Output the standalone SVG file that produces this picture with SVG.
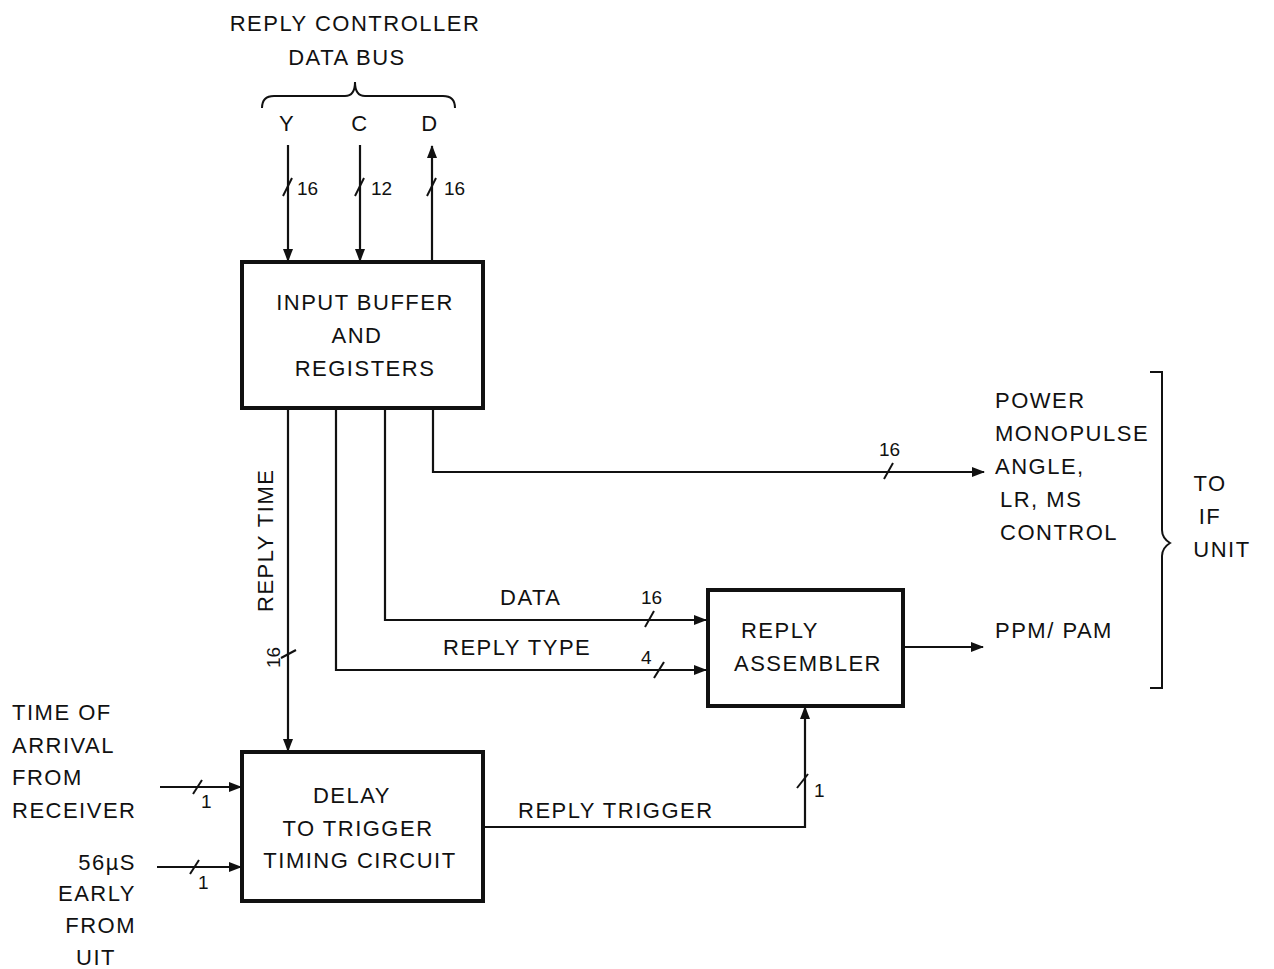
<svg xmlns="http://www.w3.org/2000/svg" width="1274" height="969" viewBox="0 0 1274 969">
<style>
text{font-family:"Liberation Sans",Arial,sans-serif;font-size:22px;fill:#111;letter-spacing:1.5px}
.box{fill:#fff;stroke:#111;stroke-width:4}
.ln{fill:none;stroke:#111;stroke-width:2.2}
.tk{fill:none;stroke:#111;stroke-width:2}
.m{text-anchor:middle}
.s{font-size:19px;letter-spacing:0}
</style>
<defs>
<marker id="ah" markerWidth="13" markerHeight="10" refX="12" refY="5" orient="auto" markerUnits="userSpaceOnUse"><path d="M0,0 L13,5 L0,10 Z" fill="#111"/></marker>
</defs>
<rect width="1274" height="969" fill="#fff"/>
<g id="bus-label">
<text x="355" y="31" class="m">REPLY CONTROLLER</text>
<text x="347" y="65" class="m">DATA BUS</text>
<path class="tk" d="M262,108 Q262,96 274,96 L345,96 Q355,96 355,82 Q355,96 365,96 L443,96 Q455,96 455,108"/>
<text x="287" y="131" class="m">Y</text>
<text x="360" y="131" class="m">C</text>
<text x="430" y="131" class="m">D</text>
</g>
<g id="input-buffer">
<rect class="box" x="242" y="262" width="241" height="146"/>
<text x="365" y="310" class="m">INPUT BUFFER</text>
<text x="357" y="343" class="m">AND</text>
<text x="365" y="376" class="m">REGISTERS</text>
</g>
<g id="reply-assembler">
<rect class="box" x="708" y="590" width="195" height="116"/>
<text x="780" y="638" class="m">REPLY</text>
<text x="808" y="671" class="m">ASSEMBLER</text>
</g>
<g id="delay-circuit">
<rect class="box" x="242" y="752" width="241" height="149"/>
<text x="352" y="803" class="m">DELAY</text>
<text x="358" y="836" class="m">TO TRIGGER</text>
<text x="360" y="868" class="m">TIMING CIRCUIT</text>
</g>
<g id="if-unit-outputs">
<text x="995" y="408">POWER</text>
<text x="995" y="441">MONOPULSE</text>
<text x="995" y="474">ANGLE,</text>
<text x="1000" y="507">LR, MS</text>
<text x="1000" y="540">CONTROL</text>
<text x="995" y="638">PPM/ PAM</text>
<path class="tk" d="M1150,372 L1162,372 L1162,530 Q1162,538 1170,543 Q1162,548 1162,556 L1162,688 L1150,688"/>
<text x="1210" y="491" class="m">TO</text>
<text x="1210" y="524" class="m">IF</text>
<text x="1222" y="557" class="m">UNIT</text>
</g>
<g id="external-inputs">
<text x="12" y="720">TIME OF</text>
<text x="12" y="753">ARRIVAL</text>
<text x="12" y="785">FROM</text>
<text x="12" y="818">RECEIVER</text>
<text x="136" y="870" text-anchor="end">56µS</text>
<text x="136" y="901" text-anchor="end">EARLY</text>
<text x="136" y="933" text-anchor="end">FROM</text>
<text x="116" y="965" text-anchor="end">UIT</text>
</g>
<g id="connectors">
<line class="ln" x1="288" y1="145" x2="288" y2="261" marker-end="url(#ah)"/>
<line class="tk" x1="283" y1="196" x2="292" y2="178"/>
<text x="297" y="195" class="s">16</text>
<line class="ln" x1="360" y1="145" x2="360" y2="261" marker-end="url(#ah)"/>
<line class="tk" x1="355" y1="196" x2="364" y2="178"/>
<text x="371" y="195" class="s">12</text>
<line class="ln" x1="432" y1="261" x2="432" y2="146" marker-end="url(#ah)"/>
<line class="tk" x1="427" y1="196" x2="436" y2="178"/>
<text x="444" y="195" class="s">16</text>

<line class="ln" x1="288" y1="409" x2="288" y2="751" marker-end="url(#ah)"/>
<text transform="translate(273,612) rotate(-90)">REPLY TIME</text>
<line class="tk" x1="281" y1="658" x2="296" y2="650"/>
<text transform="translate(280,668) rotate(-90)" class="s">16</text>

<polyline class="ln" points="336,409 336,670 706,670" marker-end="url(#ah)"/>
<text x="443" y="655">REPLY TYPE</text>
<line class="tk" x1="654" y1="678" x2="664" y2="662"/>
<text x="641" y="664" class="s">4</text>

<polyline class="ln" points="385,409 385,620 706,620" marker-end="url(#ah)"/>
<text x="500" y="605">DATA</text>
<line class="tk" x1="645" y1="627" x2="654" y2="611"/>
<text x="641" y="604" class="s">16</text>

<polyline class="ln" points="433,409 433,472 984,472" marker-end="url(#ah)"/>
<line class="tk" x1="884" y1="479" x2="893" y2="463"/>
<text x="879" y="456" class="s">16</text>

<line class="ln" x1="903" y1="647" x2="983" y2="647" marker-end="url(#ah)"/>

<polyline class="ln" points="484,827 805,827 805,707" marker-end="url(#ah)"/>
<text x="518" y="818">REPLY TRIGGER</text>
<line class="tk" x1="797" y1="788" x2="808" y2="774"/>
<text x="814" y="797" class="s">1</text>

<line class="ln" x1="160" y1="787" x2="241" y2="787" marker-end="url(#ah)"/>
<line class="tk" x1="193" y1="794" x2="202" y2="780"/>
<text x="201" y="808" class="s">1</text>
<line class="ln" x1="157" y1="867" x2="241" y2="867" marker-end="url(#ah)"/>
<line class="tk" x1="190" y1="874" x2="199" y2="860"/>
<text x="198" y="889" class="s">1</text>
</g>
</svg>
